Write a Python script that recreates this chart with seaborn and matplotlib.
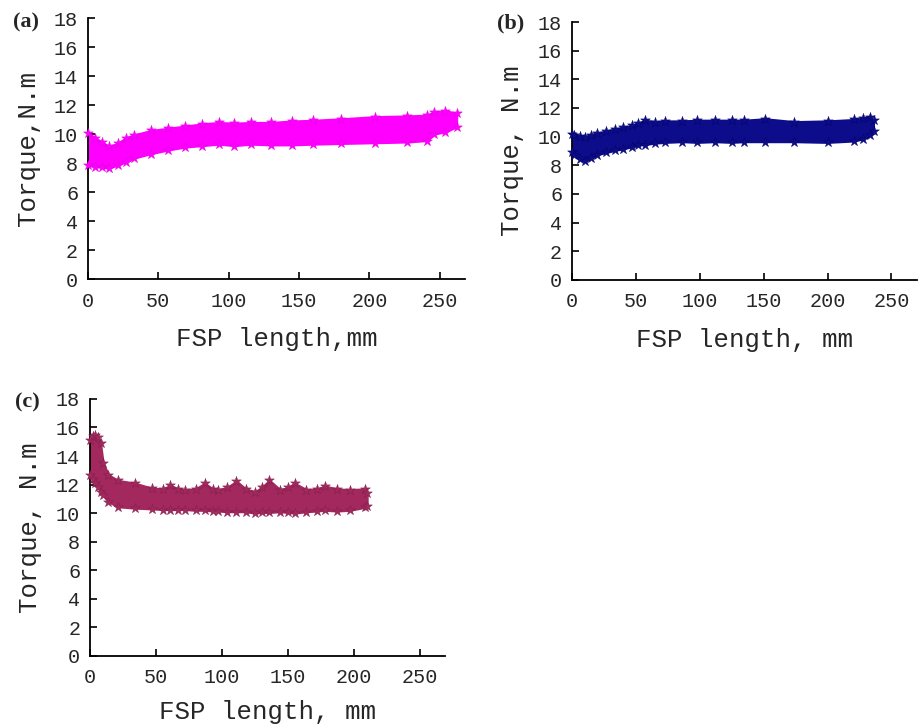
import matplotlib
matplotlib.use('Agg')
import matplotlib.pyplot as plt
import seaborn as sns
import numpy as np
import pandas as pd

# Torque band (upper / lower edge of the scatter cloud)
a_x = [0, 5, 10, 15, 21, 27, 33, 45, 57, 69, 81, 93, 104, 116, 130, 145, 160, 180, 204, 227, 241, 246, 254, 262]
a_hi = [10.1, 9.75, 9.45, 9.15, 9.35, 9.75, 9.95, 10.25, 10.4, 10.55, 10.7, 10.8, 10.75, 10.8, 10.8, 10.9,
        10.95, 11.05, 11.2, 11.25, 11.3, 11.55, 11.6, 11.45]
a_lo = [7.85, 7.75, 7.7, 7.65, 7.85, 8.1, 8.35, 8.65, 8.9, 9.1, 9.2, 9.3, 9.2, 9.3, 9.25, 9.25,
        9.3, 9.35, 9.4, 9.45, 9.55, 10.0, 10.15, 10.5]

b_x = [0, 2, 6, 10, 15, 20, 27, 34, 40, 47, 52, 57, 65, 73, 86, 98, 112, 125, 135, 151, 174, 200, 221, 228, 233, 236]
b_hi = [10.2, 10.15, 10.05, 10.0, 10.15, 10.25, 10.4, 10.55, 10.65, 10.8, 10.95, 11.15, 11.05, 11.1, 11.1,
        11.15, 11.15, 11.15, 11.15, 11.25, 11.05, 11.1, 11.2, 11.3, 11.4, 11.15]
b_lo = [8.95, 8.75, 8.45, 8.3, 8.5, 8.75, 8.9, 9.05, 9.15, 9.3, 9.4, 9.45, 9.55, 9.6, 9.65, 9.6,
        9.65, 9.6, 9.65, 9.65, 9.65, 9.6, 9.7, 9.85, 10.1, 10.4]

c_x = [0, 2, 4, 6, 8, 10, 14, 21, 34, 47, 55, 61, 67, 72, 80, 87, 93, 97, 104, 111, 118, 125, 130, 136,
       144, 150, 155, 164, 172, 178, 187, 197, 208, 210]
c_hi = [15.1, 15.4, 15.5, 15.3, 14.9, 13.5, 12.7, 12.3, 12.1, 11.75, 11.7, 11.95, 11.7, 11.65, 11.7, 12.1,
        11.7, 11.65, 11.8, 12.25, 11.7, 11.5, 11.8, 12.3, 11.65, 11.8, 12.1, 11.65, 11.7, 11.9, 11.7,
        11.65, 11.7, 11.4]
c_lo = [12.7, 12.4, 12.1, 11.8, 11.5, 11.25, 10.8, 10.45, 10.35, 10.3, 10.25, 10.25, 10.25, 10.25, 10.2,
        10.2, 10.15, 10.15, 10.1, 10.1, 10.1, 10.0, 10.05, 10.05, 10.1, 10.05, 10.0, 10.1, 10.15, 10.2,
        10.15, 10.2, 10.4, 10.5]

x_ticks = [0, 50, 100, 150, 200, 250]
y_ticks = [0, 2, 4, 6, 8, 10, 12, 14, 16, 18]

sns.set_style('ticks')
plt.rcParams['font.family'] = ['Liberation Mono', 'DejaVu Sans Mono']
plt.rcParams['xtick.direction'] = 'in'
plt.rcParams['ytick.direction'] = 'in'

fig = plt.figure(figsize=(9.21, 7.24), dpi=100)


def draw_panel(rect, xs, lo, hi, color, edge, xmax, xlabel, ylabel, tag, tag_pos, xpad=12):
    ax = fig.add_axes(rect)
    df = pd.DataFrame({'x': xs + xs, 'y': hi + lo})
    ax.fill_between(xs, lo, hi, color=color, linewidth=1.5, edgecolor=color)
    sns.scatterplot(data=df, x='x', y='y', marker='*', s=55, color=color,
                    edgecolor=edge, linewidth=0.3, ax=ax, clip_on=False, zorder=3)
    ax.set_xlim(0, xmax)
    ax.set_ylim(0, 18)
    ax.set_xticks(x_ticks)
    ax.set_yticks(y_ticks)
    ax.tick_params(labelsize=14.5, length=5, width=1.2, color='black')
    ax.tick_params(axis='x', pad=9)
    ax.tick_params(axis='y', pad=7)
    ax.set_xlabel(xlabel, fontsize=18.5, labelpad=xpad)
    ax.set_ylabel(ylabel, fontsize=18.5, labelpad=10)
    sns.despine(ax=ax)
    for sp in ['left', 'bottom']:
        ax.spines[sp].set_linewidth(1.3)
        ax.spines[sp].set_color('black')
    fig.text(tag_pos[0], tag_pos[1], tag, fontsize=16, fontweight='bold',
             family='Liberation Serif', va='center', ha='left')
    return ax


draw_panel([0.0955, 0.6146, 0.4095, 0.3605], a_x, a_lo, a_hi, '#FF00FF', '#E000E0', 268,
           'FSP length,mm', 'Torque,N.m', '(a)', (13 / 921, 1 - 22 / 724))
draw_panel([0.621, 0.6133, 0.3746, 0.3563], b_x, b_lo, b_hi, '#0D0D8C', '#000060', 270,
           'FSP length, mm', 'Torque, N.m', '(b)', (497 / 921, 1 - 23 / 724))
draw_panel([0.0977, 0.094, 0.3855, 0.355], c_x, c_lo, c_hi, '#A3285E', '#7A1E48', 269,
           'FSP length, mm', 'Torque, N.m', '(c)', (15 / 921, 1 - 402 / 724), xpad=9)

fig.savefig('out.png', dpi=100)
